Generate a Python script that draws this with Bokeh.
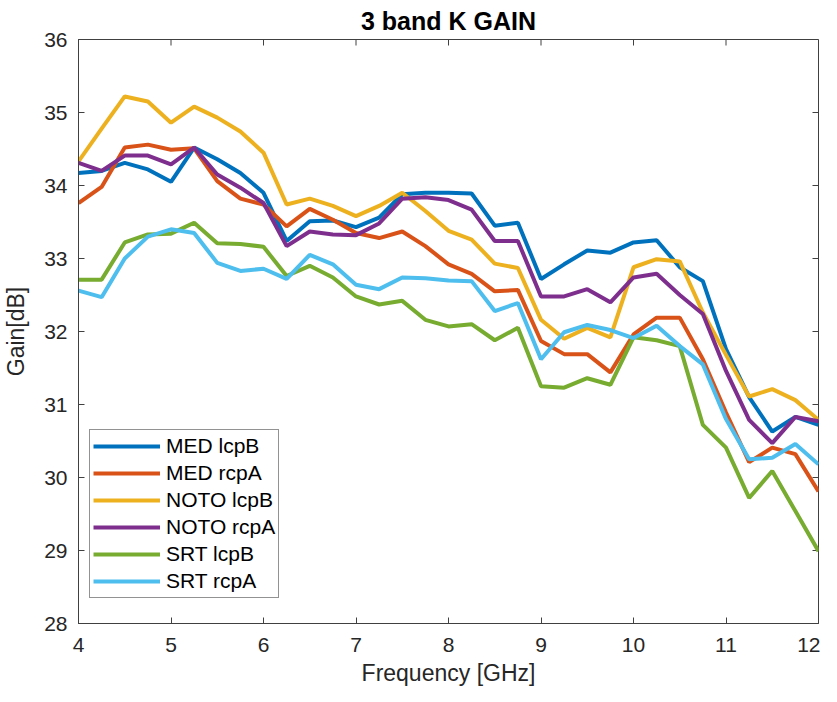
from bokeh.plotting import figure
from bokeh.models import Range1d, FixedTicker
from bokeh.embed import file_html
from bokeh.resources import INLINE

freq = [4.0, 4.25, 4.5, 4.75, 5.0, 5.25, 5.5, 5.75, 6.0, 6.25, 6.5, 6.75, 7.0,
        7.25, 7.5, 7.75, 8.0, 8.25, 8.5, 8.75, 9.0, 9.25, 9.5, 9.75, 10.0,
        10.25, 10.5, 10.75, 11.0, 11.25, 11.5, 11.75, 12.0]

med_lcpB = [34.17, 34.20, 34.31, 34.22, 34.05, 34.52, 34.36, 34.17, 33.90, 33.24,
            33.51, 33.52, 33.43, 33.56, 33.88, 33.90, 33.90, 33.89, 33.45, 33.49,
            32.72, 32.92, 33.11, 33.08, 33.22, 33.25, 32.88, 32.69, 31.76, 31.10,
            30.63, 30.83, 30.72]
med_rcpA = [33.76, 33.98, 34.52, 34.56, 34.49, 34.51, 34.06, 33.82, 33.74, 33.44,
            33.68, 33.53, 33.35, 33.28, 33.37, 33.17, 32.92, 32.79, 32.55, 32.57,
            31.87, 31.69, 31.69, 31.44, 31.96, 32.19, 32.19, 31.62, 30.89, 30.21,
            30.41, 30.32, 29.81]
noto_lcpB = [34.33, 34.78, 35.22, 35.15, 34.86, 35.08, 34.93, 34.74, 34.45, 33.74,
             33.82, 33.72, 33.58, 33.72, 33.90, 33.65, 33.38, 33.26, 32.93, 32.87,
             32.16, 31.90, 32.05, 31.92, 32.88, 32.99, 32.96, 32.26, 31.68, 31.11,
             31.21, 31.06, 30.79]
noto_rcpA = [34.31, 34.20, 34.41, 34.41, 34.29, 34.52, 34.15, 33.97, 33.76, 33.17,
             33.37, 33.33, 33.32, 33.48, 33.82, 33.84, 33.80, 33.67, 33.24, 33.24,
             32.48, 32.48, 32.58, 32.40, 32.74, 32.79, 32.50, 32.24, 31.46, 30.79,
             30.47, 30.83, 30.77]
srt_lcpB = [32.71, 32.71, 33.22, 33.33, 33.34, 33.49, 33.21, 33.20, 33.16, 32.76,
            32.90, 32.74, 32.48, 32.37, 32.42, 32.16, 32.07, 32.10, 31.88, 32.05,
            31.25, 31.23, 31.36, 31.27, 31.92, 31.88, 31.80, 30.72, 30.41, 29.72,
            30.09, 29.54, 28.99]
srt_rcpA = [32.56, 32.47, 33.00, 33.30, 33.40, 33.35, 32.94, 32.83, 32.86, 32.72,
            33.05, 32.92, 32.64, 32.58, 32.74, 32.73, 32.70, 32.69, 32.28, 32.39,
            31.62, 31.99, 32.09, 32.02, 31.91, 32.08, 31.80, 31.55, 30.80, 30.25,
            30.27, 30.46, 30.18]

series_names = ["MED lcpB", "MED rcpA", "NOTO lcpB", "NOTO rcpA", "SRT lcpB", "SRT rcpA"]
series_values = [med_lcpB, med_rcpA, noto_lcpB, noto_rcpA, srt_lcpB, srt_rcpA]
colors = ["#0072BD", "#D95319", "#EDB120", "#7E2F8E", "#77AC30", "#4DBEEE"]

x_ticks = [4, 5, 6, 7, 8, 9, 10, 11, 12]
y_ticks = [28, 29, 30, 31, 32, 33, 34, 35, 36]
x_min, x_max = 4, 12
y_min, y_max = 28, 36

FONT = "Liberation Sans"
AXC = "#404040"
TXT = "#262626"

p = figure(frame_width=740, frame_height=584,
           x_range=Range1d(x_min, x_max), y_range=Range1d(y_min, y_max),
           output_backend="svg", toolbar_location=None,
           min_border_left=76, min_border_right=2,
           min_border_top=39, min_border_bottom=70,
           title="3 band K GAIN")
p.background_fill_color = "white"
p.border_fill_color = "white"
p.outline_line_color = AXC
p.outline_line_width = 1
p.xgrid.visible = False
p.ygrid.visible = False

p.title.text_font = FONT
p.title.text_font_size = "25px"
p.title.text_font_style = "bold"
p.title.text_color = "black"
p.title.align = "center"
p.title.standoff = 9

for ax in (p.xaxis[0], p.yaxis[0]):
    ax.major_tick_in = 6
    ax.major_tick_out = 0
    ax.minor_tick_in = 0
    ax.minor_tick_out = 0
    ax.axis_line_color = AXC
    ax.major_tick_line_color = AXC
    ax.major_label_text_font = FONT
    ax.major_label_text_font_size = "21px"
    ax.major_label_text_color = TXT
    ax.axis_label_text_font = FONT
    ax.axis_label_text_font_size = "23px"
    ax.axis_label_text_font_style = "normal"
    ax.axis_label_text_color = TXT

p.xaxis[0].ticker = FixedTicker(ticks=x_ticks)
p.yaxis[0].ticker = FixedTicker(ticks=y_ticks)
p.xaxis[0].axis_label = "Frequency [GHz]"
p.yaxis[0].axis_label = "Gain[dB]"
p.xaxis[0].major_label_standoff = 14
p.yaxis[0].major_label_standoff = 11
p.xaxis[0].axis_label_standoff = 5
p.yaxis[0].axis_label_standoff = 12

# mirrored inward ticks on the top and right edges of the box
p.ray(x=x_ticks, y=[y_max] * len(x_ticks), length=6, length_units="screen",
      angle=-90, angle_units="deg", line_color=AXC, line_width=1)
p.ray(x=[x_max] * len(y_ticks), y=y_ticks, length=6, length_units="screen",
      angle=180, angle_units="deg", line_color=AXC, line_width=1)

for name, vals, c in zip(series_names, series_values, colors):
    p.line(freq, vals, line_color=c, line_width=4, legend_label=name)

lg = p.legend[0]
lg.location = (11, 25)
lg.border_line_color = "#262626"
lg.border_line_width = 1
lg.background_fill_color = "white"
lg.background_fill_alpha = 1
lg.label_text_font = FONT
lg.label_text_font_size = "21px"
lg.label_text_color = "black"
lg.glyph_width = 67
lg.glyph_height = 26
lg.label_height = 26
lg.label_standoff = 6
lg.spacing = 1
lg.padding = 3
lg.margin = 0

open("out.html", "w").write(file_html(p, INLINE))
